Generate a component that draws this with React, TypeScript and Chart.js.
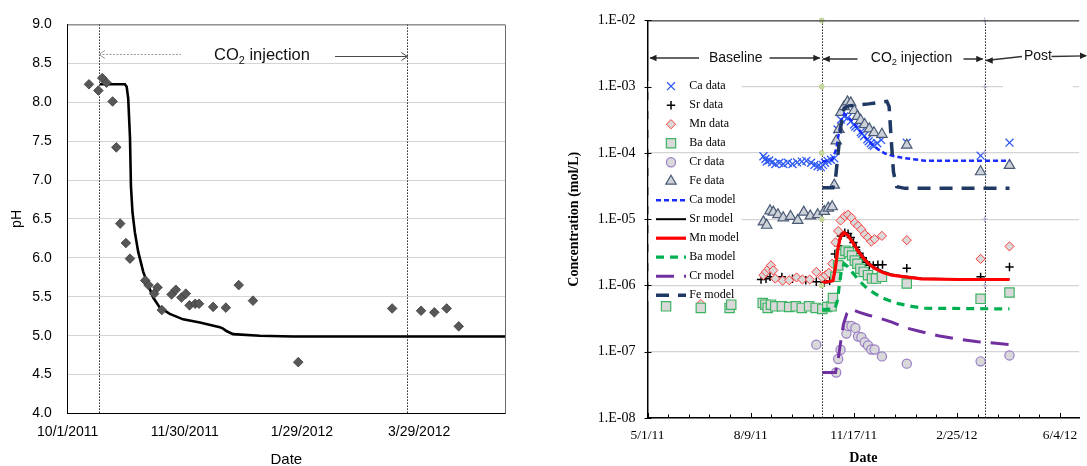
import React, { useEffect, useRef } from "react";
import { Chart, registerables } from "chart.js";
import { drawPoint } from "chart.js/helpers";

Chart.register(...registerables);

// ---------- date helpers (x values are days after 2011-05-01) ----------
const BASE_DATE = Date.UTC(2011, 4, 1);
const day = (iso: string) => {
  const [y, m, d] = iso.split("-").map(Number);
  return (Date.UTC(y, m - 1, d) - BASE_DATE) / 86400000;
};
const fmtDate = (v: number, longYear: boolean) => {
  const dt = new Date(BASE_DATE + Math.round(v) * 86400000);
  const y = dt.getUTCFullYear();
  return `${dt.getUTCMonth() + 1}/${dt.getUTCDate()}/${longYear ? y : String(y).slice(2)}`;
};
const fmtExp = (v: number) => {
  const e = Math.round(Math.log10(v));
  return `1.E${e < 0 ? "-" : "+"}${String(Math.abs(e)).padStart(2, "0")}`;
};

// ---------- shared events ----------
const INJECTION_START = "2011-10-17";
const INJECTION_END = "2012-03-23";

// ---------- left chart: pH ----------
const LEFT_X_MIN = "2011-10-01";
const LEFT_X_MAX = "2012-05-12";
const LEFT_X_TICKS = ["2011-10-01", "2011-11-30", "2012-01-29", "2012-03-29"];
const PH_DAYS = [163.9, 168.7, 170.7, 172.9, 176.0, 177.9, 179.9, 182.8, 184.9, 192.7, 194.4, 197.3, 199.0, 201.2, 206.2, 208.4, 211.3, 213.5, 215.4, 218.3, 220.3, 227.5, 234.0, 240.6, 247.9, 271.1, 319.2, 334.0, 340.8, 347.1, 353.3];
const PH_VALUES = [8.23, 8.15, 8.31, 8.25, 8.01, 7.42, 6.44, 6.19, 5.99, 5.71, 5.65, 5.54, 5.62, 5.33, 5.53, 5.59, 5.49, 5.54, 5.39, 5.41, 5.41, 5.37, 5.36, 5.65, 5.45, 4.66, 5.35, 5.32, 5.30, 5.35, 5.12];
const PH_MODEL_DAYS = [169.5, 182.3, 183.2, 184.0, 184.9, 185.4, 186.2, 187.4, 189.1, 191.7, 194.2, 196.8, 200.2, 205.3, 212.1, 220.7, 230.9, 232.6, 234.3, 237.7, 251.4, 268.4, 377];
const PH_MODEL = [8.23, 8.23, 8.2, 8.05, 7.55, 6.92, 6.58, 6.33, 6.08, 5.82, 5.65, 5.49, 5.36, 5.28, 5.21, 5.17, 5.11, 5.09, 5.06, 5.02, 5.0, 4.99, 4.99];

// ---------- right chart: concentrations ----------
const RIGHT_X_MAJOR = ["2011-05-01", "2011-08-09", "2011-11-17", "2012-02-25", "2012-06-04"];
const RIGHT_X_MAX_DAY = 418.6;
const RIGHT_Y_DECADES = [1e-8, 1e-7, 1e-6, 1e-5, 1e-4, 1e-3, 1e-2];

const CA_DAYS = [112.4, 114.3, 115.6, 118.1, 120.7, 123.9, 127.8, 131.6, 136.1, 140.6, 145.1, 149.6, 154.1, 158.6, 161.8, 165, 168.2, 170.1, 172.1, 174.6, 177.8, 181.1, 184.3, 187.5, 190.7, 193.9, 197.1, 200.3, 201.5, 203.5, 206.7, 208, 210, 213.2, 214.5, 216.4, 218, 219.6, 222.8, 226.6, 251.4, 323, 351];
const CA_DATA = [8.9e-5, 8.1e-5, 7.4e-5, 7.7e-5, 7.2e-5, 6.8e-5, 7.1e-5, 6.8e-5, 7.1e-5, 6.8e-5, 7.2e-5, 7.4e-5, 7.6e-5, 7.1e-5, 6.6e-5, 6.3e-5, 6.1e-5, 6.6e-5, 7.1e-5, 7.6e-5, 7.9e-5, 8.3e-5, 2.26e-4, 3.18e-4, 3.56e-4, 3.37e-4, 3.0e-4, 2.68e-4, 2.5e-4, 2.39e-4, 2.06e-4, 1.95e-4, 1.8e-4, 1.61e-4, 1.5e-4, 1.4e-4, 1.32e-4, 1.28e-4, 1.4e-4, 1.57e-4, 1.43e-4, 9.1e-5, 1.43e-4];
const SR_DAYS = [110.1, 114.9, 118.8, 130.3, 140.6, 153.5, 163.7, 171.4, 176.6, 181.7, 184.9, 187.5, 191.3, 194.5, 197.1, 199.7, 202.2, 205.5, 208.7, 211.9, 215.1, 218.9, 223.4, 227.9, 251.4, 323, 351];
const SR_DATA = [1.23e-6, 1.26e-6, 1.35e-6, 1.35e-6, 1.26e-6, 1.2e-6, 1.14e-6, 1.1e-6, 1.18e-6, 2.99e-6, 3.98e-6, 5.6e-6, 6.27e-6, 6.06e-6, 5.3e-6, 4.46e-6, 3.76e-6, 3.06e-6, 2.61e-6, 2.25e-6, 2.01e-6, 2.01e-6, 2.06e-6, 2.06e-6, 1.82e-6, 1.35e-6, 1.9e-6];
const MN_DAYS = [51.7, 112.4, 114.9, 117.5, 119.7, 122, 123.9, 131, 137.4, 144.5, 150.2, 157.3, 163.7, 169.5, 172.7, 175.9, 179.1, 182.3, 184.9, 187.2, 191.3, 194.5, 197.8, 201, 204.2, 207.4, 210.6, 213.8, 217, 220.2, 227.3, 251.4, 323, 351];
const MN_DATA = [5.25e-7, 1.43e-6, 1.6e-6, 1.79e-6, 2.01e-6, 1.69e-6, 1.27e-6, 1.18e-6, 1.2e-6, 1.32e-6, 1.23e-6, 1.23e-6, 1.6e-6, 1.32e-6, 1.43e-6, 1.55e-6, 2.13e-6, 4.46e-6, 6.64e-6, 9.55e-6, 1.11e-5, 1.17e-5, 1.05e-5, 8.8e-6, 7.9e-6, 7.0e-6, 5.9e-6, 5.3e-6, 4.6e-6, 5.0e-6, 5.6e-6, 4.83e-6, 2.52e-6, 3.89e-6];
const BA_DAYS = [18, 51.7, 79.6, 81.2, 111.7, 114.3, 116.5, 119.7, 123.9, 130.3, 137.4, 143.8, 149.6, 156.7, 163.1, 169.5, 174.3, 178.5, 179.8, 182.3, 184.9, 187.2, 192, 195.2, 198.4, 201, 203.5, 206.4, 209.6, 213.8, 217.7, 221.5, 227.3, 251.4, 323, 351];
const BA_DATA = [4.84e-7, 4.58e-7, 4.58e-7, 5.13e-7, 5.43e-7, 5.13e-7, 4.58e-7, 5.13e-7, 4.84e-7, 4.84e-7, 4.73e-7, 4.84e-7, 4.58e-7, 4.84e-7, 4.58e-7, 4.43e-7, 4.73e-7, 4.84e-7, 6.44e-7, 1.35e-6, 2.01e-6, 2.99e-6, 3.35e-6, 3.17e-6, 2.83e-6, 2.38e-6, 2.13e-6, 1.79e-6, 1.6e-6, 1.43e-6, 1.27e-6, 1.27e-6, 1.35e-6, 1.07e-6, 6.29e-7, 7.82e-7];
const CR_DAYS = [163.7, 183, 184.9, 187.2, 192.9, 194.5, 197.8, 201.6, 204.2, 207.4, 210.6, 213.8, 217, 220.2, 227.3, 251.4, 323, 351];
const CR_DATA = [1.28e-7, 4.86e-8, 7.76e-8, 1.07e-7, 1.88e-7, 2.45e-7, 2.45e-7, 2.29e-7, 1.7e-7, 1.66e-7, 1.39e-7, 1.24e-7, 1.08e-7, 1.08e-7, 8.5e-8, 6.61e-8, 7.16e-8, 8.79e-8];
const FE_DAYS = [112.4, 115.6, 118.8, 122, 126.5, 131.6, 138.7, 145.7, 151.5, 157.9, 165, 171.4, 175.3, 179.1, 181.1, 183, 185.6, 187.5, 190.7, 193.9, 197.1, 200.3, 203.5, 206.7, 210.6, 215.1, 219.6, 227.3, 251.4, 323, 351];
const FE_DATA = [9.1e-6, 8.1e-6, 1.34e-5, 1.28e-5, 1.17e-5, 1.05e-5, 1.1e-5, 9.6e-6, 1.28e-5, 1.12e-5, 1.17e-5, 1.31e-5, 1.47e-5, 1.54e-5, 3.27e-5, 1.52e-4, 2.26e-4, 4.08e-4, 5.0e-4, 5.9e-4, 5.7e-4, 4.37e-4, 3.56e-4, 3.11e-4, 2.68e-4, 2.31e-4, 2.02e-4, 1.91e-4, 1.31e-4, 5.2e-5, 6.5e-5];

const CA_MODEL_DAYS = [169.5, 179.1, 183, 185.6, 188.1, 190.7, 193.9, 198.4, 204.8, 211.2, 217.7, 224.1, 230.5, 236.9, 249.8, 262.6, 269, 301.1, 351];
const CA_MODEL = [7.4e-5, 7.9e-5, 1.14e-4, 2.02e-4, 3.18e-4, 3.9e-4, 3.56e-4, 3.0e-4, 2.26e-4, 1.7e-4, 1.35e-4, 1.12e-4, 9.8e-5, 9.1e-5, 8.3e-5, 7.9e-5, 7.6e-5, 7.6e-5, 7.6e-5];
const SRMN_MODEL_DAYS = [169.5, 179.8, 182.3, 184.3, 186.8, 190.7, 193.9, 198.4, 203.5, 208.7, 214.4, 220.9, 228.9, 236.9, 249.8, 265.8, 301.1, 351];
const SR_MODEL = [1.1e-6, 1.16e-6, 1.85e-6, 3.3e-6, 5.4e-6, 6.4e-6, 6.0e-6, 4.8e-6, 3.6e-6, 2.8e-6, 2.2e-6, 1.85e-6, 1.6e-6, 1.46e-6, 1.36e-6, 1.27e-6, 1.24e-6, 1.24e-6];
const MN_MODEL = [1.1e-6, 1.18e-6, 1.9e-6, 3.35e-6, 5.28e-6, 6.27e-6, 5.79e-6, 4.61e-6, 3.43e-6, 2.67e-6, 2.13e-6, 1.79e-6, 1.55e-6, 1.43e-6, 1.35e-6, 1.26e-6, 1.23e-6, 1.23e-6];
const BA_MODEL_DAYS = [169.5, 181.7, 184.3, 186.2, 188.1, 190.7, 193.9, 198.4, 204.8, 212.8, 220.9, 230.5, 243.3, 256.2, 269, 351];
const BA_MODEL = [4.33e-7, 4.43e-7, 6.08e-7, 1.07e-6, 1.69e-6, 2.13e-6, 1.94e-6, 1.6e-6, 1.2e-6, 9.06e-7, 7.46e-7, 6.22e-7, 5.31e-7, 4.84e-7, 4.53e-7, 4.43e-7];
const CR_MODEL_DAYS = [169.5, 182.3, 184.9, 187.5, 190, 193.3, 197.1, 204.8, 214.4, 224.1, 236.9, 249.8, 262.6, 281.9, 301.1, 320.4, 351];
const CR_MODEL = [4.86e-8, 4.86e-8, 7.83e-8, 1.47e-7, 2.59e-7, 3.77e-7, 4.43e-7, 3.95e-7, 3.56e-7, 3.25e-7, 2.8e-7, 2.31e-7, 2.06e-7, 1.74e-7, 1.55e-7, 1.42e-7, 1.28e-7];
const FE_MODEL_DAYS = [169.5, 179.8, 182.3, 184.9, 187.5, 190.7, 195.2, 214.4, 232.1, 234.3, 236.3, 238.5, 241.7, 249.8, 351];
const FE_MODEL = [2.98e-5, 2.98e-5, 4.1e-5, 1.02e-4, 2.54e-4, 4.73e-4, 5.13e-4, 5.5e-4, 6.0e-4, 5.0e-4, 1.61e-4, 5.15e-5, 3.08e-5, 2.92e-5, 2.92e-5];

const START_MARKER_LEVELS = [1e-2, 1e-3, 1e-4, 1e-5, 1e-6];
const END_MARKER_LEVELS = [1e-2, 1e-3, 1e-4, 1e-5, 1e-6];

const pts = (xs: number[], ys: number[]) => xs.map((x, i) => ({ x, y: ys[i] }));

const SANS = '"Liberation Sans", Arial, sans-serif';
const SERIF = '"Liberation Serif", "Times New Roman", serif';

function arrowHead(ctx: CanvasRenderingContext2D, x: number, y: number, dir: number, filled: boolean, len = 7, half = 3.2) {
  ctx.beginPath();
  ctx.moveTo(x - dir * len, y - half);
  ctx.lineTo(x, y);
  ctx.lineTo(x - dir * len, y + half);
  if (filled) {
    ctx.closePath();
    ctx.fill();
  } else ctx.stroke();
}

function drawCO2(ctx: CanvasRenderingContext2D, x: number, baseline: number, size: number, family: string, color: string) {
  ctx.save();
  ctx.fillStyle = color;
  ctx.textBaseline = "alphabetic";
  ctx.textAlign = "left";
  ctx.font = `${size}px ${family}`;
  ctx.fillText("CO", x, baseline);
  let w = ctx.measureText("CO").width;
  ctx.font = `${size * 0.66}px ${family}`;
  ctx.fillText("2", x + w, baseline + size * 0.24);
  w += ctx.measureText("2").width;
  ctx.font = `${size}px ${family}`;
  ctx.fillText(" injection", x + w, baseline);
  ctx.restore();
}

function vDotted(ctx: CanvasRenderingContext2D, x: number, top: number, bottom: number) {
  ctx.save();
  ctx.strokeStyle = "#222";
  ctx.lineWidth = 1;
  ctx.setLineDash([1.5, 1.5]);
  ctx.beginPath();
  ctx.moveTo(Math.round(x) + 0.5, top);
  ctx.lineTo(Math.round(x) + 0.5, bottom);
  ctx.stroke();
  ctx.restore();
}

const leftDecor = {
  id: "leftDecor",
  beforeDatasetsDraw(chart: any) {
    const { ctx, chartArea: a, scales } = chart;
    [INJECTION_START, INJECTION_END].forEach((d) => vDotted(ctx, scales.x.getPixelForValue(day(d)), a.top, a.bottom));
  },
  afterDraw(chart: any) {
    const { ctx, chartArea: a, scales } = chart;
    ctx.save();
    ctx.strokeStyle = "#6a6a6a";
    ctx.lineWidth = 1;
    ctx.beginPath();
    ctx.moveTo(a.left, a.top + 0.5);
    ctx.lineTo(a.right + 0.5, a.top + 0.5);
    ctx.lineTo(a.right + 0.5, a.bottom);
    ctx.stroke();
    // arrows
    const x0 = scales.x.getPixelForValue(day(INJECTION_START));
    const x1 = scales.x.getPixelForValue(day(INJECTION_END));
    ctx.strokeStyle = "#9a9a9a";
    ctx.setLineDash([2, 1.5]);
    ctx.beginPath();
    ctx.moveTo(x0, 54.5);
    ctx.lineTo(181, 54.5);
    ctx.stroke();
    ctx.setLineDash([]);
    arrowHead(ctx, x0, 54.5, -1, false, 6, 4);
    ctx.strokeStyle = "#4a4a4a";
    ctx.beginPath();
    ctx.moveTo(335, 56.5);
    ctx.lineTo(x1, 56.5);
    ctx.stroke();
    arrowHead(ctx, x1, 56.5, 1, false, 6, 4);
    ctx.restore();
    drawCO2(ctx, 214, 60, 16.5, SANS, "#111");
  },
};

const rightDecor = {
  id: "rightDecor",
  beforeDatasetsDraw(chart: any) {
    const { ctx, chartArea: a, scales } = chart;
    ctx.save();
    // white boxes behind legend rows and text box gap
    const ds = chart.data.datasets.slice(0, 12);
    ctx.fillStyle = "#fff";
    ds.forEach((_: any, i: number) => {
      const cy = a.top + 65.8 + i * 19.0;
      ctx.fillRect(a.left + 1, cy - 5, 181.7 - a.left - 1, 11);
    });
    const y3 = scales.y.getPixelForValue(1e-3);
    ctx.fillRect(443, y3 - 2, 70, 4);
    ctx.restore();

    [INJECTION_START, INJECTION_END].forEach((d) => vDotted(ctx, scales.x.getPixelForValue(day(d)), a.top, a.bottom));

    // legend
    ctx.save();
    ds.forEach((d: any, i: number) => {
      const cy = a.top + 65.8 + i * 19.0;
      if (d.showLine) {
        ctx.strokeStyle = d.borderColor;
        ctx.lineWidth = d.borderWidth;
        ctx.setLineDash(d.borderDash || []);
        ctx.beginPath();
        ctx.moveTo(a.left + 8.5, cy);
        ctx.lineTo(a.left + 38.5, cy);
        ctx.stroke();
        ctx.setLineDash([]);
      } else {
        ctx.fillStyle = d.backgroundColor;
        ctx.strokeStyle = d.borderColor;
        ctx.lineWidth = d.borderWidth;
        drawPoint(ctx, { pointStyle: d.pointStyle, radius: d.pointRadius, rotation: 0, borderWidth: d.borderWidth } as any, a.left + 23.5, cy);
      }
      ctx.fillStyle = "#000";
      ctx.font = `12px ${SERIF}`;
      ctx.textBaseline = "middle";
      ctx.textAlign = "left";
      ctx.fillText(d.label, a.left + 41.8, cy);
    });
    ctx.restore();
  },
  afterDraw(chart: any) {
    const { ctx, chartArea: a, scales } = chart;
    ctx.save();
    // top border
    ctx.strokeStyle = "#222";
    ctx.lineWidth = 1;
    ctx.beginPath();
    ctx.moveTo(a.left, a.top + 0.5);
    ctx.lineTo(a.right, a.top + 0.5);
    ctx.stroke();
    // inward ticks
    ctx.strokeStyle = "#000";
    scales.x.ticks.forEach((t: any) => {
      const x = Math.round(scales.x.getPixelForValue(t.value)) + 0.5;
      const major = Math.abs(t.value % 100) < 0.01;
      ctx.beginPath();
      ctx.moveTo(x, a.bottom);
      ctx.lineTo(x, a.bottom - (major ? 5 : 3.5));
      ctx.stroke();
    });
    scales.y.ticks.forEach((t: any) => {
      const y = Math.round(scales.y.getPixelForValue(t.value)) + 0.5;
      ctx.beginPath();
      ctx.moveTo(a.left - 3, y);
      ctx.lineTo(a.left + 4, y);
      ctx.stroke();
    });

    // phase annotations
    const xs = scales.x.getPixelForValue(day(INJECTION_START));
    const xe = scales.x.getPixelForValue(day(INJECTION_END));
    ctx.strokeStyle = "#333";
    ctx.fillStyle = "#222";
    ctx.lineWidth = 1.3;
    // Baseline
    ctx.beginPath();
    ctx.moveTo(a.left + 2.5, 58);
    ctx.lineTo(139, 58);
    ctx.moveTo(209.5, 58);
    ctx.lineTo(xs - 2, 58);
    ctx.stroke();
    arrowHead(ctx, a.left + 2, 58, -1, true);
    arrowHead(ctx, xs - 1.5, 58, 1, true);
    // CO2 injection
    ctx.beginPath();
    ctx.moveTo(xs + 1, 59);
    ctx.lineTo(297.5, 59);
    ctx.moveTo(403.5, 59);
    ctx.lineTo(xe - 2, 59);
    ctx.stroke();
    arrowHead(ctx, xs + 1, 59, -1, true);
    arrowHead(ctx, xe - 1.5, 59, 1, true);
    // Post
    ctx.beginPath();
    ctx.moveTo(xe + 1, 60.5);
    ctx.lineTo(462, 56.5);
    ctx.moveTo(491.5, 56.5);
    ctx.lineTo(526, 55.8);
    ctx.stroke();
    arrowHead(ctx, xe + 1, 60.5, -1, true);
    arrowHead(ctx, 527, 55.8, 1, true);

    ctx.fillStyle = "#111";
    ctx.font = `14px ${SANS}`;
    ctx.textBaseline = "middle";
    ctx.textAlign = "left";
    ctx.fillText("Baseline", 148.9, 58.3);
    ctx.fillText("Post", 464, 55.7);
    ctx.restore();
    drawCO2(ctx, 310.8, 61.6, 14, SANS, "#111");
  },
};

function leftConfig(): any {
  return {
    type: "scatter",
    data: {
      datasets: [
        {
          label: "pH data",
          data: pts(PH_DAYS, PH_VALUES),
          pointStyle: "rectRot",
          pointRadius: 4.8,
          backgroundColor: "#575757",
          borderColor: "#3c3c3c",
          borderWidth: 0.8,
          order: 0,
        },
        {
          label: "pH model",
          data: pts(PH_MODEL_DAYS, PH_MODEL),
          showLine: true,
          pointRadius: 0,
          borderColor: "#000",
          borderWidth: 2.6,
          order: 1,
        },
      ],
    },
    options: {
      responsive: false,
      animation: false,
      events: [],
      layout: { padding: { top: 17.5, right: 35, left: 0, bottom: 0 } },
      plugins: { legend: { display: false }, tooltip: { enabled: false } },
      scales: {
        x: {
          type: "linear",
          min: day(LEFT_X_MIN),
          max: day(LEFT_X_MAX),
          afterBuildTicks: (s: any) => {
            s.ticks = LEFT_X_TICKS.map((d) => ({ value: day(d) }));
          },
          afterFit: (s: any) => {
            s.height = 466 - 413.5;
          },
          grid: { display: false, drawTicks: false },
          border: { display: true, color: "#000", width: 1 },
          ticks: {
            callback: (v: number) => fmtDate(v, true),
            font: { family: SANS, size: 14 },
            color: "#000",
            padding: 9.8,
            maxRotation: 0,
            autoSkip: false,
          },
          title: { display: true, text: "Date", font: { family: SANS, size: 15, lineHeight: 1 }, color: "#000", padding: { top: 0, bottom: -1.5 } },
        },
        y: {
          min: 4,
          max: 9,
          afterFit: (s: any) => {
            s.width = 67.7;
          },
          grid: { color: "#d4d4d4", lineWidth: 1, drawTicks: false },
          border: { display: true, color: "#000", width: 1 },
          ticks: { stepSize: 0.5, callback: (v: number) => v.toFixed(1), font: { family: SANS, size: 14 }, color: "#000", padding: 16 },
          title: { display: true, text: "pH", font: { family: SANS, size: 14, lineHeight: 1 }, color: "#000", padding: { top: 10.5, bottom: 0 } },
        },
      },
    },
    plugins: [leftDecor],
  };
}

function rightConfig(): any {
  const data = [
    { label: "Ca data", data: pts(CA_DAYS, CA_DATA), pointStyle: "crossRot", pointRadius: 5.6, backgroundColor: "#2f5af5", borderColor: "#2f5af5", borderWidth: 1.3 },
    { label: "Sr data", data: pts(SR_DAYS, SR_DATA), pointStyle: "cross", pointRadius: 4.2, backgroundColor: "#000", borderColor: "#000", borderWidth: 1.5 },
    { label: "Mn data", data: pts(MN_DAYS, MN_DATA), pointStyle: "rectRot", pointRadius: 4.6, backgroundColor: "#d9d9d9", borderColor: "#ff3b3b", borderWidth: 1 },
    { label: "Ba data", data: pts(BA_DAYS, BA_DATA), pointStyle: "rect", pointRadius: 6.6, backgroundColor: "#d9d9d9", borderColor: "#3cb464", borderWidth: 1.2 },
    { label: "Cr data", data: pts(CR_DAYS, CR_DATA), pointStyle: "circle", pointRadius: 4.6, backgroundColor: "#d9d9d9", borderColor: "#9a7cc8", borderWidth: 1.2 },
    { label: "Fe data", data: pts(FE_DAYS, FE_DATA), pointStyle: "triangle", pointRadius: 6, backgroundColor: "#cdd1d8", borderColor: "#4a5a75", borderWidth: 1.2 },
  ];
  const models = [
    { label: "Ca model", data: pts(CA_MODEL_DAYS, CA_MODEL), borderColor: "#1a2bff", borderWidth: 2.5, borderDash: [5, 3] },
    { label: "Sr model", data: pts(SRMN_MODEL_DAYS, SR_MODEL), borderColor: "#000", borderWidth: 2, borderDash: [] },
    { label: "Mn model", data: pts(SRMN_MODEL_DAYS, MN_MODEL), borderColor: "#ff0000", borderWidth: 3.2, borderDash: [] },
    { label: "Ba model", data: pts(BA_MODEL_DAYS, BA_MODEL), borderColor: "#00b050", borderWidth: 3.2, borderDash: [8, 6] },
    { label: "Cr model", data: pts(CR_MODEL_DAYS, CR_MODEL), borderColor: "#7030a0", borderWidth: 3, borderDash: [18, 10] },
    { label: "Fe model", data: pts(FE_MODEL_DAYS, FE_MODEL), borderColor: "#1f3864", borderWidth: 3.5, borderDash: [13, 9] },
  ].map((m) => ({ ...m, showLine: true, pointRadius: 0, backgroundColor: m.borderColor }));
  const markers = [
    {
      label: "start",
      data: START_MARKER_LEVELS.map((v) => ({ x: day(INJECTION_START), y: v })),
      pointStyle: "circle",
      pointRadius: 2.8,
      backgroundColor: "#c3d69b",
      borderColor: "#c3d69b",
      borderWidth: 0,
      clip: false,
    },
    {
      label: "end",
      data: END_MARKER_LEVELS.map((v) => ({ x: day(INJECTION_END), y: v })),
      pointStyle: "cross",
      pointRadius: 3,
      backgroundColor: "#b9b0d2",
      borderColor: "#b9b0d2",
      borderWidth: 1,
      clip: false,
    },
  ];
  const datasets = [...data, ...models, ...markers].map((d, i) => ({ ...d, order: -i }));
  const minorTicks: number[] = [];
  for (let v = day(RIGHT_X_MAJOR[0]); v <= RIGHT_X_MAX_DAY; v += 20) minorTicks.push(v);
  return {
    type: "scatter",
    data: { datasets },
    options: {
      responsive: false,
      animation: false,
      events: [],
      layout: { padding: { top: 12, right: 0, left: 0, bottom: 0 } },
      plugins: { legend: { display: false }, tooltip: { enabled: false } },
      scales: {
        x: {
          type: "linear",
          min: day(RIGHT_X_MAJOR[0]),
          max: RIGHT_X_MAX_DAY,
          afterBuildTicks: (s: any) => {
            s.ticks = minorTicks.map((v) => ({ value: v }));
          },
          afterFit: (s: any) => {
            s.height = 466 - 418;
          },
          grid: { display: false, drawTicks: false },
          border: { display: true, color: "#000", width: 1.5 },
          ticks: {
            callback: (v: number) => (RIGHT_X_MAJOR.some((d) => Math.abs(day(d) - v) < 0.01) ? fmtDate(v, false) : ""),
            font: { family: SERIF, size: 13.5 },
            color: "#000",
            padding: 8.9,
            maxRotation: 0,
            autoSkip: false,
          },
          title: { display: true, text: "Date", font: { family: SERIF, size: 14, weight: "bold", lineHeight: 1 }, color: "#000", padding: { top: 0, bottom: 0.7 } },
        },
        y: {
          type: "logarithmic",
          min: 1e-8,
          max: 1e-2,
          afterBuildTicks: (s: any) => {
            s.ticks = RIGHT_Y_DECADES.map((v) => ({ value: v }));
          },
          afterFit: (s: any) => {
            s.width = 87.5;
          },
          grid: { color: "#d4d4d4", lineWidth: 1.2, drawTicks: false },
          border: { display: true, color: "#000", width: 1.5 },
          ticks: { callback: (v: number) => fmtExp(v), font: { family: SERIF, size: 14 }, color: "#000", padding: 12, autoSkip: false },
          title: {
            display: true,
            text: "Concentration (mol/L)",
            font: { family: SERIF, size: 14, weight: "bold", lineHeight: 1 },
            color: "#000",
            padding: { top: 7, bottom: 0 },
          },
        },
      },
    },
    plugins: [rightDecor],
  };
}

export default function App() {
  const leftRef = useRef<HTMLCanvasElement>(null);
  const rightRef = useRef<HTMLCanvasElement>(null);
  useEffect(() => {
    const l = new Chart(leftRef.current as HTMLCanvasElement, leftConfig());
    const r = new Chart(rightRef.current as HTMLCanvasElement, rightConfig());
    return () => {
      l.destroy();
      r.destroy();
    };
  }, []);
  return (
    <div style={{ position: "fixed", left: 0, top: 0, width: 1087, height: 466, overflow: "hidden", background: "#fff" }}>
      <canvas ref={leftRef} width={540} height={466} style={{ position: "absolute", left: 0, top: 0, width: 540, height: 466 }} />
      <canvas ref={rightRef} width={527} height={466} style={{ position: "absolute", left: 560, top: 0, width: 527, height: 466 }} />
    </div>
  );
}
